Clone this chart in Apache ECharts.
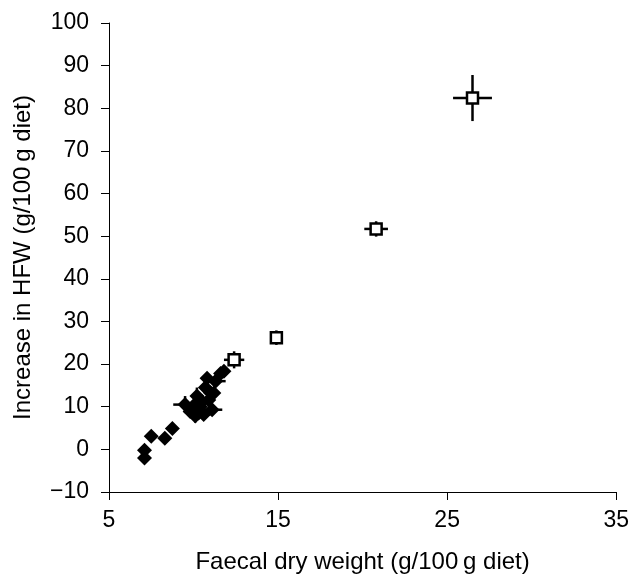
<!DOCTYPE html>
<html>
<head>
<meta charset="utf-8">
<script src="https://cdn.jsdelivr.net/npm/echarts@6/dist/echarts.min.js"></script>
<style>
  html, body { margin: 0; padding: 0; background: #fff; }
  #chart { width: 632px; height: 579px; }
</style>
</head>
<body>
<div id="chart"></div>
<script>
// filled diamonds: x, y and error half-widths (0 = none visible)
const filledX = [7.1, 7.1, 7.5, 8.3, 8.75, 9.5, 9.8, 10.0, 10.1, 10.3, 10.2, 10.4, 10.5, 10.6, 10.7, 10.8, 10.9, 11.0, 11.1, 11.2, 11.3, 11.6, 11.8];
const filledY = [-0.2, -2.0, 3.1, 2.6, 4.9, 10.5, 8.9, 10.2, 7.8, 8.5, 12.5, 10.0, 11.2, 8.2, 14.5, 16.7, 11.6, 13.3, 9.3, 13.2, 16.0, 17.8, 18.3];
const filledXErr = [0, 0, 0, 0, 0, 0.7, 0, 0, 0, 0, 0, 0, 0, 0.4, 0, 0, 0, 0, 0.6, 0, 0.6, 0, 0];
const filledYErr = [0, 0, 0, 0, 0, 2.0, 0, 0, 1.5, 0, 2.0, 0, 0, 0, 0, 0, 1.5, 0, 0, 0, 0, 0, 0];

// open squares
const openX = [12.4, 14.9, 20.8, 26.5];
const openY = [21.0, 26.2, 51.7, 82.4];
const openXErr = [0.6, 0.3, 0.7, 1.15];
const openYErr = [2.0, 1.7, 1.8, 5.4];

const xTicks = [5, 15, 25, 35];

const toRows = (xs, ys, xe, ye) => xs.map((x, i) => [x, ys[i], xe[i], ye[i]]);
const filledRows = toRows(filledX, filledY, filledXErr, filledYErr);
const openRows = toRows(openX, openY, openXErr, openYErr);

function errorBars(params, api) {
  const x = api.value(0), y = api.value(1);
  const xe = api.value(2), ye = api.value(3);
  const style = { stroke: '#000', lineWidth: 2.5 };
  const children = [];
  if (xe > 0) {
    const a = api.coord([x - xe, y]), b = api.coord([x + xe, y]);
    children.push({ type: 'line', shape: { x1: a[0], y1: a[1], x2: b[0], y2: b[1] }, style });
  }
  if (ye > 0) {
    const a = api.coord([x, y - ye]), b = api.coord([x, y + ye]);
    children.push({ type: 'line', shape: { x1: a[0], y1: a[1], x2: b[0], y2: b[1] }, style });
  }
  return { type: 'group', children };
}

const font = 'Liberation Sans, Arial, sans-serif';

const chart = echarts.init(document.getElementById('chart'), null, { renderer: 'canvas' });
chart.setOption({
  backgroundColor: '#fff',
  animation: false,
  grid: { left: 109, right: 15, top: 23, bottom: 84 },
  xAxis: {
    type: 'value',
    min: 5, max: 35, interval: 10,
    name: 'Faecal dry weight (g/100\u2009g diet)',
    nameLocation: 'middle',
    nameGap: 58,
    nameTextStyle: { fontFamily: font, fontSize: 24, color: '#000' },
    axisLine: { onZero: false, lineStyle: { color: '#000', width: 1 } },
    axisTick: { show: true, length: 8, lineStyle: { color: '#000' } },
    axisLabel: { fontFamily: font, fontSize: 23, color: '#000', margin: 17,
      formatter: v => xTicks.includes(v) ? String(v) : '' },
    splitLine: { show: false }
  },
  yAxis: {
    type: 'value',
    min: -10, max: 100, interval: 10,
    name: 'Increase in HFW (g/100\u2009g diet)',
    nameLocation: 'middle',
    nameGap: 74,
    nameTextStyle: { fontFamily: font, fontSize: 24, color: '#000' },
    axisLine: { onZero: false, lineStyle: { color: '#000', width: 1 } },
    axisTick: { show: true, length: 8, lineStyle: { color: '#000' } },
    axisLabel: { fontFamily: font, fontSize: 23, color: '#000', margin: 20,
      formatter: v => v < 0 ? '\u2212' + Math.abs(v) : String(v) },
    splitLine: { show: false }
  },
  series: [
    {
      type: 'custom',
      renderItem: errorBars,
      data: filledRows,
      z: 2
    },
    {
      type: 'scatter',
      data: filledRows,
      symbol: 'diamond',
      symbolSize: [15, 15],
      itemStyle: { color: '#000', opacity: 1 },
      z: 3
    },
    {
      type: 'custom',
      renderItem: errorBars,
      data: openRows,
      z: 2
    },
    {
      type: 'scatter',
      data: openRows,
      symbol: 'rect',
      symbolSize: 11,
      itemStyle: { color: '#fff', borderColor: '#000', borderWidth: 2.5, opacity: 1 },
      z: 3
    }
  ]
});
</script>
</body>
</html>
